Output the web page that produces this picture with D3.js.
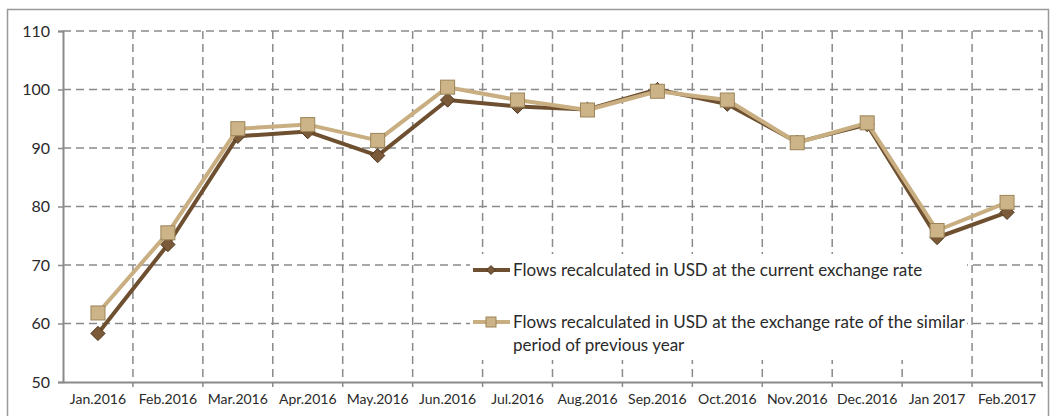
<!DOCTYPE html>
<html>
<head>
<meta charset="utf-8">
<script src="https://cdn.jsdelivr.net/npm/d3@7"></script>
<style>
  body { margin: 0; background: #fff; }
  text { font-family: Lato, "Open Sans", sans-serif; fill: #2a2a2a; }
</style>
</head>
<body>
<div id="chart"></div>
<script>
// data
const months = ["Jan.2016", "Feb.2016", "Mar.2016", "Apr.2016", "May.2016", "Jun.2016", "Jul.2016",
    "Aug.2016", "Sep.2016", "Oct.2016", "Nov.2016", "Dec.2016", "Jan 2017", "Feb.2017"];
const currentRate = [58.3, 73.5, 92, 92.8, 88.7, 98.2, 97.1, 96.6, 100, 97.5, 91, 94, 74.7, 79];
const previousRate = [61.8, 75.5, 93.3, 94, 91.3, 100.4, 98.2, 96.5, 99.7, 98.2, 90.9, 94.3, 75.9, 80.7];
const yTicks = [50, 60, 70, 80, 90, 100, 110];
const seriesNames = ["Flows recalculated in USD at the current exchange rate",
    ["Flows recalculated in USD at the exchange rate of the similar", "period of previous year"]];

const width = 1051, height = 416;
const margin = { left: 63, right: 9, top: 31, bottom: 34 };
const dark = "#6e5031", light = "#c8ae80";

const svg = d3.select("#chart").append("svg")
    .attr("width", width)
    .attr("height", height);

// outer frame
svg.append("rect")
    .attr("x", 7.5).attr("y", 9.5)
    .attr("width", 1041).attr("height", 420)
    .attr("fill", "none").attr("stroke", "#999").attr("stroke-width", 1.5);

const x = d3.scaleBand()
    .domain(months)
    .range([margin.left, width - margin.right]);

const y = d3.scaleLinear()
    .domain([50, 110])
    .range([height - margin.bottom, margin.top]);

const grid = svg.append("g");

// horizontal dashed gridlines
grid.selectAll(".hgrid")
    .data(yTicks.filter(t => t > 50))
    .join("line")
    .attr("x1", margin.left).attr("x2", width - margin.right)
    .attr("y1", d => y(d)).attr("y2", d => y(d))
    .attr("stroke", "#8a8a8a").attr("stroke-width", 1.5)
    .attr("stroke-dasharray", "8,5");

// vertical dashed gridlines at category boundaries
grid.selectAll(".vgrid")
    .data(months)
    .join("line")
    .attr("x1", d => x(d) + x.bandwidth()).attr("x2", d => x(d) + x.bandwidth())
    .attr("y1", y(110)).attr("y2", y(50))
    .attr("stroke", "#8a8a8a").attr("stroke-width", 1.5)
    .attr("stroke-dasharray", "8,5");

// y axis
const yAxis = svg.append("g")
    .attr("transform", `translate(${margin.left},0)`)
    .call(d3.axisLeft(y).tickValues(yTicks).tickSize(5).tickPadding(8));
yAxis.selectAll("text").attr("font-size", 16).attr("fill", "#2a2a2a");

// x axis
const xAxis = svg.append("g")
    .attr("transform", `translate(0,${y(50)})`)
    .call(d3.axisBottom(x).tickSize(0).tickPadding(12));
xAxis.selectAll("text").attr("font-size", 14).attr("fill", "#2a2a2a");
xAxis.selectAll(".tick").append("line")
    .attr("x1", x.bandwidth() / 2).attr("x2", x.bandwidth() / 2)
    .attr("y1", 0).attr("y2", 5);

[yAxis, xAxis].forEach(a => {
    a.select(".domain").attr("stroke", "#8a8a8a").attr("stroke-width", 2);
    a.selectAll(".tick line").attr("stroke", "#8a8a8a").attr("stroke-width", 1.5);
});

const line = d3.line()
    .x((d, i) => x(months[i]) + x.bandwidth() / 2)
    .y(d => y(d));

// current exchange rate series (dark, diamonds)
svg.append("path")
    .datum(currentRate)
    .attr("d", line)
    .attr("fill", "none").attr("stroke", dark).attr("stroke-width", 4)
    .attr("stroke-linejoin", "round");

svg.selectAll(".diamond")
    .data(currentRate)
    .join("path")
    .attr("d", d3.symbol(d3.symbolDiamond2, 130))
    .attr("transform", (d, i) => `translate(${x(months[i]) + x.bandwidth() / 2},${y(d)})`)
    .attr("fill", "#7a5a38").attr("stroke", "#4d3720").attr("stroke-width", 1);

// previous year rate series (light, squares)
svg.append("path")
    .datum(previousRate)
    .attr("d", line)
    .attr("fill", "none").attr("stroke", light).attr("stroke-width", 4)
    .attr("stroke-linejoin", "round");

svg.selectAll(".square")
    .data(previousRate)
    .join("rect")
    .attr("x", (d, i) => x(months[i]) + x.bandwidth() / 2 - 7)
    .attr("y", d => y(d) - 7)
    .attr("width", 14).attr("height", 14)
    .attr("fill", "#cdb488").attr("stroke", "#9c8458").attr("stroke-width", 1);

// legend
const legend = svg.append("g");
legend.append("rect")
    .attr("x", 470).attr("y", 254)
    .attr("width", 497).attr("height", 106)
    .attr("fill", "#fff");

const legendItems = [
    { y: 270, color: dark, shape: "diamond", lines: [seriesNames[0]] },
    { y: 322, color: light, shape: "square", lines: seriesNames[1] }
];

legendItems.forEach(item => {
    legend.append("line")
        .attr("x1", 473).attr("x2", 510)
        .attr("y1", item.y).attr("y2", item.y)
        .attr("stroke", item.color).attr("stroke-width", 4);
    if (item.shape == "diamond") {
        legend.append("path")
            .attr("d", d3.symbol(d3.symbolDiamond2, 50))
            .attr("transform", `translate(491,${item.y})`)
            .attr("fill", "#7a5a38").attr("stroke", "#4d3720");
    } else {
        legend.append("rect")
            .attr("x", 486).attr("y", item.y - 5)
            .attr("width", 10).attr("height", 10)
            .attr("fill", "#cdb488").attr("stroke", "#9c8458");
    }
    item.lines.forEach((t, k) => {
        legend.append("text")
            .attr("x", 513).attr("y", item.y + 6 + k * 23)
            .attr("font-size", 17)
            .text(t);
    });
});
</script>
</body>
</html>
